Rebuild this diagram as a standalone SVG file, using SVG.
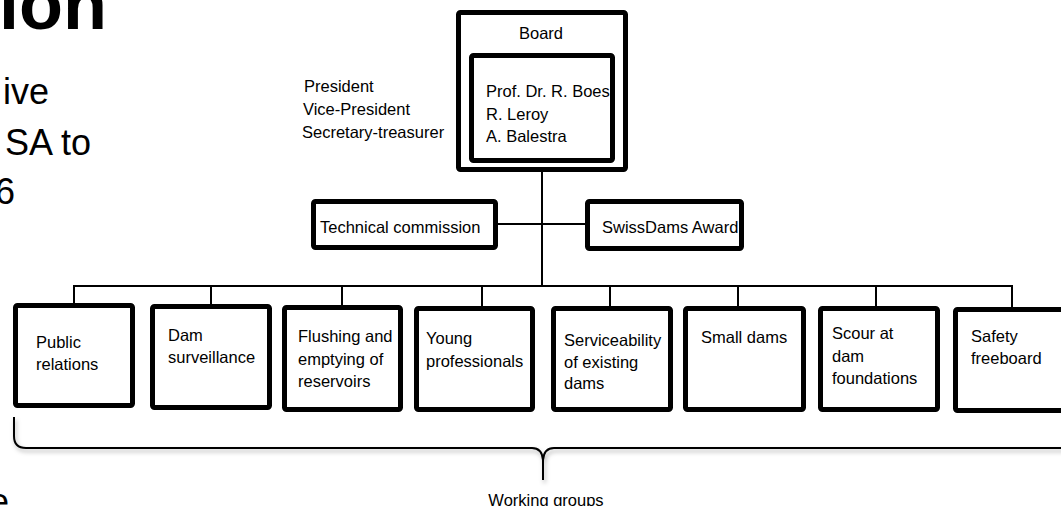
<svg xmlns="http://www.w3.org/2000/svg" width="1061" height="506" viewBox="0 0 1061 506">
  <style>
    .box { fill: #fff; stroke: #000; stroke-width: 5; }
    .lbl { font-family: "Liberation Sans", Arial, sans-serif; font-size: 16.5px; fill: #000; }
    .big { font-family: "Liberation Sans", Arial, sans-serif; font-size: 36px; fill: #000; }
    .conn { stroke: #000; stroke-width: 2; fill: none; }
  </style>
  <defs>
    <filter id="shadow" x="-5%" y="-50%" width="110%" height="200%">
      <feDropShadow dx="1.5" dy="3" stdDeviation="2" flood-color="#000" flood-opacity="0.3"/>
    </filter>
  </defs>
  <rect width="1061" height="506" fill="#fff"/>

  <!-- slide background text -->
  <g id="slide-text">
    <text x="107" y="29" text-anchor="end" font-family="Liberation Sans, Arial, sans-serif" font-size="72" font-weight="bold">ion</text>
    <text class="big" x="49" y="104" text-anchor="end">ive</text>
    <text class="big" x="91" y="155" text-anchor="end">SA to</text>
    <text class="big" x="15" y="204" text-anchor="end">6</text>
    <text class="big" x="19" y="514" text-anchor="end">e,</text>
  </g>

  <!-- connectors -->
  <g id="connectors">
    <line class="conn" x1="542" y1="163" x2="542" y2="286"/>
    <line class="conn" x1="498" y1="224" x2="585" y2="224"/>
    <line class="conn" x1="73" y1="286" x2="1013" y2="286"/>
    <line class="conn" x1="74" y1="286" x2="74" y2="304"/>
    <line class="conn" x1="211" y1="286" x2="211" y2="305"/>
    <line class="conn" x1="342" y1="286" x2="342" y2="306"/>
    <line class="conn" x1="482" y1="286" x2="482" y2="307"/>
    <line class="conn" x1="610" y1="286" x2="610" y2="307"/>
    <line class="conn" x1="738" y1="286" x2="738" y2="307"/>
    <line class="conn" x1="876" y1="286" x2="876" y2="307"/>
    <line class="conn" x1="1012" y1="286" x2="1012" y2="308"/>
  </g>

  <!-- board -->
  <g id="board">
    <rect class="box" x="458.5" y="12.5" width="167" height="157" rx="2"/>
    <text class="lbl" x="541" y="39" text-anchor="middle">Board</text>
    <rect class="box" x="471.5" y="55.5" width="141" height="105" rx="2"/>
    <text class="lbl" x="486" y="97">Prof. Dr. R. Boes</text>
    <text class="lbl" x="486" y="119.5">R. Leroy</text>
    <text class="lbl" x="486" y="142">A. Balestra</text>
  </g>

  <g id="roles">
    <text class="lbl" x="304" y="92">President</text>
    <text class="lbl" x="303" y="115">Vice-President</text>
    <text class="lbl" x="302" y="138">Secretary-treasurer</text>
  </g>

  <g id="technical-commission">
    <rect class="box" x="313.5" y="201.5" width="182" height="46" rx="2"/>
    <text class="lbl" x="320" y="233">Technical commission</text>
  </g>

  <g id="swissdams-award">
    <rect class="box" x="587.5" y="201.5" width="154" height="47" rx="2"/>
    <text class="lbl" x="602" y="233">SwissDams Award</text>
  </g>

  <!-- working groups -->
  <g id="wg-public-relations">
    <rect class="box" x="15.5" y="305.5" width="117" height="100" rx="2"/>
    <text class="lbl" x="36" y="347.5">Public</text>
    <text class="lbl" x="36" y="369.5">relations</text>
  </g>
  <g id="wg-dam-surveillance">
    <rect class="box" x="152.5" y="306.5" width="117" height="101" rx="2"/>
    <text class="lbl" x="168" y="341">Dam</text>
    <text class="lbl" x="168" y="363">surveillance</text>
  </g>
  <g id="wg-flushing">
    <rect class="box" x="284.5" y="307.5" width="116" height="102" rx="2"/>
    <text class="lbl" x="298" y="342">Flushing and</text>
    <text class="lbl" x="298" y="364.5">emptying of</text>
    <text class="lbl" x="298" y="387">reservoirs</text>
  </g>
  <g id="wg-young-professionals">
    <rect class="box" x="416.5" y="308.5" width="116" height="101" rx="2"/>
    <text class="lbl" x="426" y="344">Young</text>
    <text class="lbl" x="426" y="367">professionals</text>
  </g>
  <g id="wg-serviceability">
    <rect class="box" x="553.5" y="308.5" width="117" height="101" rx="2"/>
    <text class="lbl" x="564" y="346">Serviceability</text>
    <text class="lbl" x="564" y="367.5">of existing</text>
    <text class="lbl" x="564" y="389">dams</text>
  </g>
  <g id="wg-small-dams">
    <rect class="box" x="685.5" y="308.5" width="118" height="101" rx="2"/>
    <text class="lbl" x="701" y="343">Small dams</text>
  </g>
  <g id="wg-scour">
    <rect class="box" x="820.5" y="308.5" width="117" height="101" rx="2"/>
    <text class="lbl" x="832" y="339">Scour at</text>
    <text class="lbl" x="832" y="361.5">dam</text>
    <text class="lbl" x="832" y="384">foundations</text>
  </g>
  <g id="wg-safety-freeboard">
    <rect class="box" x="955.5" y="309.5" width="120" height="101" rx="2"/>
    <text class="lbl" x="971" y="342">Safety</text>
    <text class="lbl" x="971" y="363.5">freeboard</text>
  </g>

  <!-- brace -->
  <g id="working-groups-brace">
    <path d="M14 417 V436 Q14 448 26 448 H532 Q542 448 543 460 V480 M543 460 Q544 448 554 448 H1070" fill="none" stroke="#000" stroke-width="2" filter="url(#shadow)"/>
    <text class="lbl" x="546" y="506" text-anchor="middle">Working groups</text>
  </g>
</svg>
